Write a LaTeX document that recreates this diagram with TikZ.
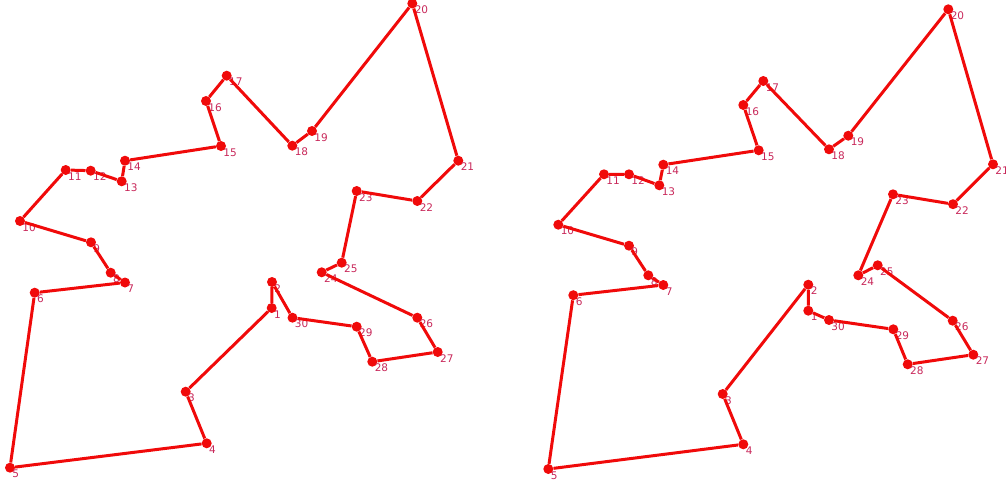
\documentclass[tikz,border=0pt]{standalone}
\usepackage{fontspec}
\setmainfont{DejaVu Sans}
\definecolor{tourred}{RGB}{240,10,10}
\definecolor{lblcol}{RGB}{200,40,90}
\tikzset{
  dot/.style={circle,fill=tourred,inner sep=0pt,minimum size=10pt},
  lbl/.style={text=lblcol,font=\fontsize{10.5pt}{10.5pt}\selectfont,inner sep=0pt,anchor=north west},
  tour/.style={draw=tourred,line width=3pt,line join=round}
}
\begin{document}
\begin{tikzpicture}[x=1pt,y=-1pt]
\useasboundingbox (0,0) rectangle (1006,484);
% left panel
\foreach \n/\x/\y in {1/271.7/308,2/272/282,3/185.7/391.7,4/206.7/443.3,5/10/467.7,6/34.7/292.7,7/125/282.5,8/110.7/272.7,9/91/242.3,10/20/221,11/65.7/170,12/90.7/170.7,13/121.7/181.3,14/125/160.7,15/221/146,16/206/101,17/226.7/75.7,18/292.3/145.7,19/312/131,20/412.3/3.5,21/458.3/160.7,22/417.3/201,23/356.7/191,24/321.7/272.3,25/341.7/262.7,26/417.3/317.7,27/437.7/352,28/372.3/361.7,29/356.7/326.7,30/292.5/317.7}
  {\node[dot,label={[lbl,label distance=-2pt]south east:\n}] (L\n) at (\x,\y) {};}
\path[tour] (L1) -- (L2) -- (L30) -- (L29) -- (L28) -- (L27) -- (L26) -- (L24) -- (L25) -- (L23) -- (L22) -- (L21) -- (L20) -- (L19) -- (L18) -- (L17) -- (L16) -- (L15) -- (L14) -- (L13) -- (L12) -- (L11) -- (L10) -- (L9) -- (L8) -- (L7) -- (L6) -- (L5) -- (L4) -- (L3) -- (L1);
% right panel
\foreach \n/\x/\y in {1/808.3/310.7,2/808.3/284.7,3/722.7/394,4/743.3/444.3,5/548.3/469,6/573.3/295.2,7/663.3/285,8/648.3/275.3,9/629/245.7,10/558.3/224.7,11/604/174.3,12/629/174.3,13/659.3/185.3,14/663.3/164.7,15/758.7/150.3,16/743.3/105,17/763.3/81,18/829/149.3,19/848.3/135.7,20/948.3/9.3,21/993/164.3,22/953/204.2,23/893/194.3,24/858.3/275.3,25/877.7/265.3,26/952.7/320.7,27/973.3/354.7,28/907.7/364.3,29/893.3/329.3,30/829/320}
  {\node[dot,label={[lbl,label distance=-2pt]south east:\n}] (R\n) at (\x,\y) {};}
\path[tour] (R1) -- (R2) -- (R3) -- (R4) -- (R5) -- (R6) -- (R7) -- (R8) -- (R9) -- (R10) -- (R11) -- (R12) -- (R13) -- (R14) -- (R15) -- (R16) -- (R17) -- (R18) -- (R19) -- (R20) -- (R21) -- (R22) -- (R23) -- (R24) -- (R25) -- (R26) -- (R27) -- (R28) -- (R29) -- (R30) -- (R1);
\end{tikzpicture}
\end{document}
